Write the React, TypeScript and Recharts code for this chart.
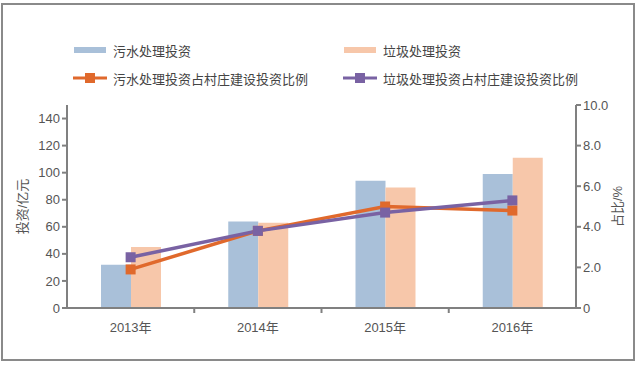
import { Bar, ComposedChart, Line, XAxis, YAxis } from 'recharts';

const years = ['2013年', '2014年', '2015年', '2016年'];
const sewageInvest = [32, 64, 94, 99];
const garbageInvest = [45, 63, 89, 111];
const sewageRatio = [1.9, 3.8, 5.0, 4.8];
const garbageRatio = [2.5, 3.8, 4.7, 5.3];
const leftTicks = [0, 20, 40, 60, 80, 100, 120, 140];
const rightTicks = [0, 2, 4, 6, 8, 10];

const data = years.map((year, i) => ({
  year,
  sewage: sewageInvest[i],
  garbage: garbageInvest[i],
  sewageRatio: sewageRatio[i],
  garbageRatio: garbageRatio[i],
}));

const FONT = "'Liberation Sans', 'Noto Sans CJK SC', sans-serif";
const AXIS = '#808080';
const TICK = '#555';
const BLUE = '#a9c0d9';
const PEACH = '#f7c7aa';
const ORANGE = '#e0692c';
const PURPLE = '#7962a3';

const squareDot = (color: string) => (props: any) => {
  const { cx, cy, index } = props;
  if (cx == null || cy == null) return <g key={index} />;
  return <rect key={index} x={cx - 5} y={cy - 5} width={10} height={10} fill={color} />;
};

function CategoryTick(props: any) {
  const { x, y, payload } = props;
  const left = x - (payload.offset ?? 0);
  return (
    <g>
      {payload.index > 0 && <line x1={left} y1={y - 8} x2={left} y2={y - 3} stroke={AXIS} strokeWidth={2} />}
      <text x={x} y={y + 16} textAnchor="middle" fill={TICK} fontSize={13} fontFamily={FONT}>
        {payload.value}
      </text>
    </g>
  );
}

function LegendItem({ kind, color, label }: { kind: 'bar' | 'line'; color: string; label: string }) {
  return (
    <div style={{ display: 'flex', alignItems: 'center', height: 20 }}>
      <svg width={36} height={12} style={{ marginRight: 4 }}>
        {kind === 'bar' ? (
          <rect x={1} y={3} width={32} height={6} fill={color} />
        ) : (
          <>
            <line x1={0} y1={6} x2={34} y2={6} stroke={color} strokeWidth={3} />
            <rect x={12} y={1} width={10} height={10} fill={color} />
          </>
        )}
      </svg>
      <span style={{ fontSize: 13, color: '#444', fontFamily: FONT, whiteSpace: 'nowrap' }}>{label}</span>
    </div>
  );
}

export default function App() {
  return (
    <div style={{ position: 'absolute', left: 0, top: 0, width: 643, height: 368, background: '#fff' }}>
      <div
        style={{
          position: 'absolute',
          left: 1,
          top: 3,
          width: 634,
          height: 358,
          border: '2px solid #8a8a8a',
          boxSizing: 'border-box',
        }}
      />
      <div style={{ position: 'absolute', left: 73, top: 40, display: 'grid', gridTemplateColumns: '270px 270px', rowGap: 8 }}>
        <LegendItem kind="bar" color={BLUE} label="污水处理投资" />
        <LegendItem kind="bar" color={PEACH} label="垃圾处理投资" />
        <LegendItem kind="line" color={ORANGE} label="污水处理投资占村庄建设投资比例" />
        <LegendItem kind="line" color={PURPLE} label="垃圾处理投资占村庄建设投资比例" />
      </div>
      <div style={{ position: 'absolute', left: 0, top: 0 }}>
        <ComposedChart
          width={643}
          height={368}
          data={data}
          margin={{ top: 105, right: 0, bottom: 0, left: 0 }}
          barGap={0}
        >
          <XAxis
            dataKey="year"
            height={60}
            axisLine={{ stroke: AXIS, strokeWidth: 2 }}
            tickLine={false}
            tick={<CategoryTick />}
          />
          <YAxis
            yAxisId="left"
            width={67}
            domain={[0, 150]}
            ticks={leftTicks}
            axisLine={{ stroke: AXIS, strokeWidth: 2 }}
            tickLine={{ stroke: AXIS, strokeWidth: 2 }}
            tickSize={5}
            tick={{ fill: TICK, fontSize: 13, fontFamily: FONT }}
            label={{
              value: '投资/亿元',
              angle: -90,
              position: 'insideLeft',
              offset: 22,
              style: { textAnchor: 'middle', fill: TICK, fontSize: 13, fontFamily: FONT },
            }}
          />
          <YAxis
            yAxisId="right"
            orientation="right"
            width={67}
            domain={[0, 10]}
            ticks={rightTicks}
            tickFormatter={(v: number) => (v === 0 ? '0' : v.toFixed(1))}
            axisLine={{ stroke: AXIS, strokeWidth: 2 }}
            tickLine={{ stroke: AXIS, strokeWidth: 2 }}
            tickSize={5}
            tick={{ fill: TICK, fontSize: 13, fontFamily: FONT }}
            label={{
              value: '占比/%',
              angle: -90,
              position: 'insideRight',
              offset: 26,
              style: { textAnchor: 'middle', fill: TICK, fontSize: 13, fontFamily: FONT },
            }}
          />
          <Bar yAxisId="left" dataKey="sewage" fill={BLUE} barSize={30} isAnimationActive={false} />
          <Bar yAxisId="left" dataKey="garbage" fill={PEACH} barSize={30} isAnimationActive={false} />
          <Line
            yAxisId="right"
            dataKey="sewageRatio"
            stroke={ORANGE}
            strokeWidth={3.5}
            dot={squareDot(ORANGE)}
            isAnimationActive={false}
          />
          <Line
            yAxisId="right"
            dataKey="garbageRatio"
            stroke={PURPLE}
            strokeWidth={3.5}
            dot={squareDot(PURPLE)}
            isAnimationActive={false}
          />
        </ComposedChart>
      </div>
    </div>
  );
}
